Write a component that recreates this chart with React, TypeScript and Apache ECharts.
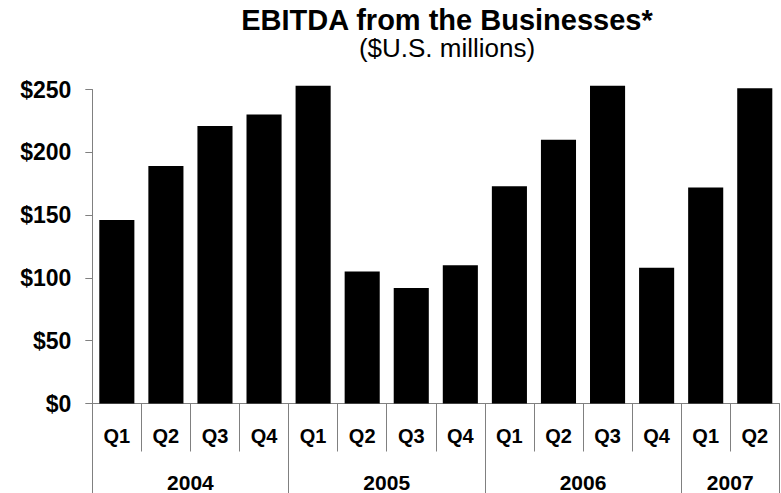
import React, { useEffect, useRef } from "react";
import * as echarts from "echarts";

const quarters = ["Q1", "Q2", "Q3", "Q4", "Q1", "Q2", "Q3", "Q4", "Q1", "Q2", "Q3", "Q4", "Q1", "Q2"];
const ebitda = [146, 189, 221, 230, 253, 105, 92, 110, 173, 210, 253, 108, 172, 251];
const years = ["2004", "2005", "2006", "2007"];
const quartersPerYear = [4, 4, 4, 2];
const yTicks = [0, 50, 100, 150, 200, 250];

const FONT = "'Liberation Sans', Arial, sans-serif";
const GREY = "#808080";

export default function App() {
  const ref = useRef<HTMLDivElement>(null);
  useEffect(() => {
    if (!ref.current) return;
    const chart = echarts.init(ref.current, null, { renderer: "svg" });

    const bounds: number[] = [0];
    const centers: number[] = [];
    quartersPerYear.forEach((n, i) => {
      centers.push(bounds[i] + n / 2);
      bounds.push(bounds[i] + n);
    });
    const total = bounds[bounds.length - 1];

    chart.setOption({
      animation: false,
      backgroundColor: "#ffffff",
      title: [
        {
          text: "EBITDA from the Businesses*",
          left: 447,
          top: 5,
          textAlign: "center",
          padding: 0,
          textStyle: { fontFamily: FONT, fontSize: 29, fontWeight: "bold", color: "#000", lineHeight: 29 },
        },
        {
          text: "($U.S. millions)",
          left: 447,
          top: 35,
          textAlign: "center",
          padding: 0,
          textStyle: { fontFamily: FONT, fontSize: 26, fontWeight: "normal", color: "#000", lineHeight: 26 },
        },
      ],
      grid: { left: 92.3, right: 1.7, top: 89.5, bottom: 89, containLabel: false },
      xAxis: [
        {
          type: "category",
          data: quarters,
          boundaryGap: true,
          position: "bottom",
          axisLine: { show: true, lineStyle: { color: GREY, width: 1 } },
          axisTick: { show: true, interval: 0, length: 48, lineStyle: { color: GREY, width: 1 } },
          axisLabel: {
            interval: 0,
            margin: 32,
            verticalAlign: "middle",
            fontFamily: FONT,
            fontSize: 20,
            fontWeight: "bold",
            color: "#000",
          },
          splitLine: { show: false },
        },
        {
          type: "value",
          min: 0,
          max: total,
          position: "bottom",
          axisLine: { show: false },
          axisTick: { show: true, length: 92, customValues: bounds, lineStyle: { color: GREY, width: 1 } },
          axisLabel: {
            customValues: centers,
            margin: 79,
            verticalAlign: "middle",
            fontFamily: FONT,
            fontSize: 21,
            fontWeight: "bold",
            color: "#000",
            formatter: (v: number) => {
              const i = centers.findIndex((c) => Math.abs(c - v) < 1e-6);
              return i >= 0 ? years[i] : "";
            },
          },
          splitLine: { show: false },
        },
      ],
      yAxis: {
        type: "value",
        min: yTicks[0],
        max: yTicks[yTicks.length - 1],
        interval: 50,
        axisLine: { show: true, lineStyle: { color: GREY, width: 1 } },
        axisTick: { show: true, length: 7, lineStyle: { color: GREY, width: 1 } },
        axisLabel: {
          margin: 21,
          fontFamily: FONT,
          fontSize: 23,
          fontWeight: "bold",
          color: "#000",
          formatter: (v: number) => "$" + v,
        },
        splitLine: { show: false },
      },
      series: [
        {
          type: "bar",
          data: ebitda,
          xAxisIndex: 0,
          barCategoryGap: "28.5%",
          clip: false,
          itemStyle: { color: "#000000" },
        },
      ],
    });
    return () => chart.dispose();
  }, []);
  return <div ref={ref} style={{ position: "fixed", left: 0, top: 0, width: 781, height: 493 }} />;
}
